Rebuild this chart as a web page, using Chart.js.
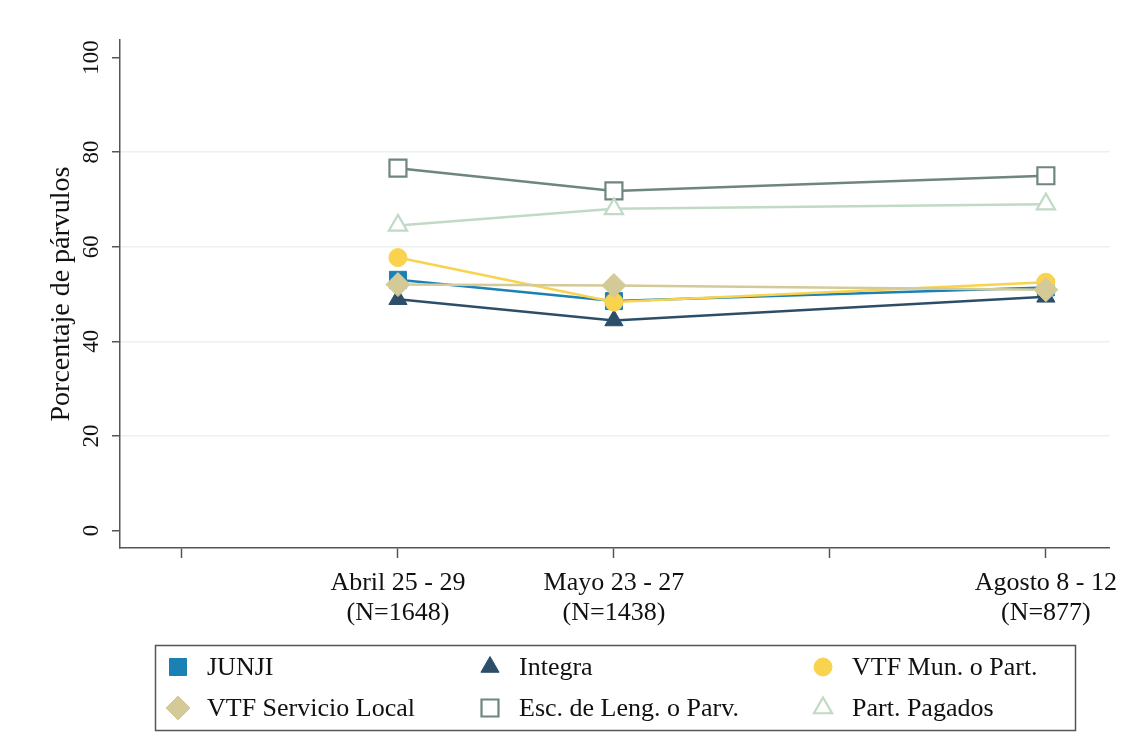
<!DOCTYPE html>
<html>
<head>
<meta charset="utf-8">
<script src="https://cdn.jsdelivr.net/npm/chart.js@4/dist/chart.umd.min.js"></script>
<style>
    html, body { margin: 0; padding: 0; background: #fff; }
    #wrap { width: 1124px; height: 733px; }
</style>
</head>
<body>
<div id="wrap"><canvas id="chart" width="1124" height="733"></canvas></div>
<script>
// periods (x position in weeks-slot units), labels shown under the axis
let periodX = [2, 3, 5];
let periodNames = ['Abril 25 - 29', 'Mayo 23 - 27', 'Agosto 8 - 12'];
let periodN = ['(N=1648)', '(N=1438)', '(N=877)'];
let xTicks = [1, 2, 3, 4, 5];
let yTicks = [0, 20, 40, 60, 80, 100];

// percentages per group
let junji = [53.0, 48.5, 51.4];
let integra = [48.9, 44.4, 49.4];
let vtfMun = [57.7, 48.3, 52.5];
let vtfLocal = [52.0, 51.8, 50.9];
let escLeng = [76.6, 71.8, 75.0];
let partPagados = [64.5, 68.0, 69.0];

let serif = "'Liberation Serif', 'Times New Roman', serif";

function points(values) {
    return values.map(function (v, i) {
        return { x: periodX[i], y: v };
    });
}

function series(label, values, color, style, radius, hollow, order) {
    return {
        label: label,
        data: points(values),
        borderColor: color,
        backgroundColor: color,
        borderWidth: 2.5,
        pointStyle: style,
        pointRadius: radius,
        pointBorderWidth: hollow ? 2.2 : 1,
        pointBackgroundColor: hollow ? '#ffffff' : color,
        pointBorderColor: color,
        order: order,
        tension: 0
    };
}

// stata draws later series on top
let datasets = [
    series('JUNJI', junji, '#1b80b4', 'rect', 12, false, 6),
    series('Integra', integra, '#2d4e69', 'triangle', 10.5, false, 5),
    series('VTF Mun. o Part.', vtfMun, '#f9d34e', 'circle', 9, false, 4),
    series('VTF Servicio Local', vtfLocal, '#d3ca98', 'rectRot', 12, false, 3),
    series('Esc. de Leng. o Parv.', escLeng, '#6e8580', 'rect', 12, true, 2),
    series('Part. Pagados', partPagados, '#c1dac5', 'triangle', 10.5, true, 1)
];

// y tick labels are rotated like in stata
let yLabels = {
    id: 'yLabels',
    afterDraw: function (chart) {
        let ctx = chart.ctx;
        let scale = chart.scales.y;
        ctx.save();
        ctx.fillStyle = '#111';
        ctx.font = '23px ' + serif;
        ctx.textAlign = 'center';
        ctx.textBaseline = 'middle';
        for (let t of scale.ticks) {
            let y = scale.getPixelForValue(t.value);
            ctx.save();
            ctx.translate(92, y);
            ctx.rotate(-Math.PI / 2);
            ctx.fillText(String(t.value), 0, 0);
            ctx.restore();
        }
        ctx.restore();
    }
};

// three column boxed legend
let boxLegend = {
    id: 'boxLegend',
    afterDraw: function (chart) {
        let ctx = chart.ctx;
        let colX = [178, 490, 823];
        let rowY = [667, 708];
        ctx.save();
        ctx.strokeStyle = '#555';
        ctx.lineWidth = 1.5;
        ctx.strokeRect(155.5, 645.5, 920, 85);
        ctx.font = '26px ' + serif;
        ctx.textBaseline = 'middle';
        ctx.textAlign = 'left';
        chart.data.datasets.forEach(function (ds, i) {
            let x = colX[i % 3];
            let y = rowY[Math.floor(i / 3)];
            ctx.fillStyle = ds.pointBackgroundColor;
            ctx.strokeStyle = ds.pointBorderColor;
            ctx.lineWidth = ds.pointBorderWidth;
            Chart.helpers.drawPoint(ctx, {
                pointStyle: ds.pointStyle,
                radius: ds.pointRadius,
                rotation: 0,
                borderWidth: ds.pointBorderWidth
            }, x, y);
            ctx.fillStyle = '#111';
            ctx.fillText(ds.label, x + 29, y + 1);
        });
        ctx.restore();
    }
};

new Chart(document.getElementById('chart').getContext('2d'), {
    type: 'line',
    data: { datasets: datasets },
    options: {
        responsive: false,
        animation: false,
        layout: { padding: { left: 0, top: 40, right: 14, bottom: 0 } },
        plugins: {
            legend: { display: false },
            tooltip: { enabled: false }
        },
        scales: {
            x: {
                type: 'linear',
                min: 0.713,
                max: 5.296,
                afterBuildTicks: function (axis) {
                    axis.ticks = xTicks.map(function (v) { return { value: v }; });
                },
                afterFit: function (scale) {
                    scale.height = 185;
                    scale.paddingLeft = 0;
                    scale.paddingRight = 0;
                },
                border: { display: true, color: '#555', width: 1.5 },
                grid: {
                    drawOnChartArea: false,
                    drawTicks: true,
                    tickLength: 10,
                    tickColor: '#555',
                    tickWidth: 1.5
                },
                ticks: {
                    autoSkip: false,
                    maxRotation: 0,
                    minRotation: 0,
                    padding: 11,
                    color: '#111',
                    font: { family: serif, size: 26, lineHeight: 1.12 },
                    callback: function (value) {
                        let i = periodX.indexOf(value);
                        if (i < 0) return '';
                        return [periodNames[i], periodN[i]];
                    }
                }
            },
            y: {
                min: -3.7,
                max: 103.7,
                afterBuildTicks: function (axis) {
                    axis.ticks = yTicks.map(function (v) { return { value: v }; });
                },
                afterFit: function (scale) {
                    scale.width = 120;
                    scale.paddingTop = 0;
                    scale.paddingBottom = 0;
                },
                border: { display: true, color: '#555', width: 1.5 },
                grid: {
                    drawOnChartArea: true,
                    drawTicks: true,
                    tickLength: 8,
                    tickColor: '#555',
                    tickWidth: 1.5,
                    lineWidth: 1.5,
                    color: function (c) {
                        if (!c.tick || c.tick.value === 0 || c.tick.value === 100) return 'rgba(0,0,0,0)';
                        return '#edf0f3';
                    }
                },
                ticks: { display: false },
                title: {
                    display: true,
                    text: 'Porcentaje de párvulos',
                    color: '#111',
                    font: { family: serif, size: 28 },
                    padding: { top: 45, bottom: 0 }
                }
            }
        }
    },
    plugins: [yLabels, boxLegend]
});
</script>
</body>
</html>
